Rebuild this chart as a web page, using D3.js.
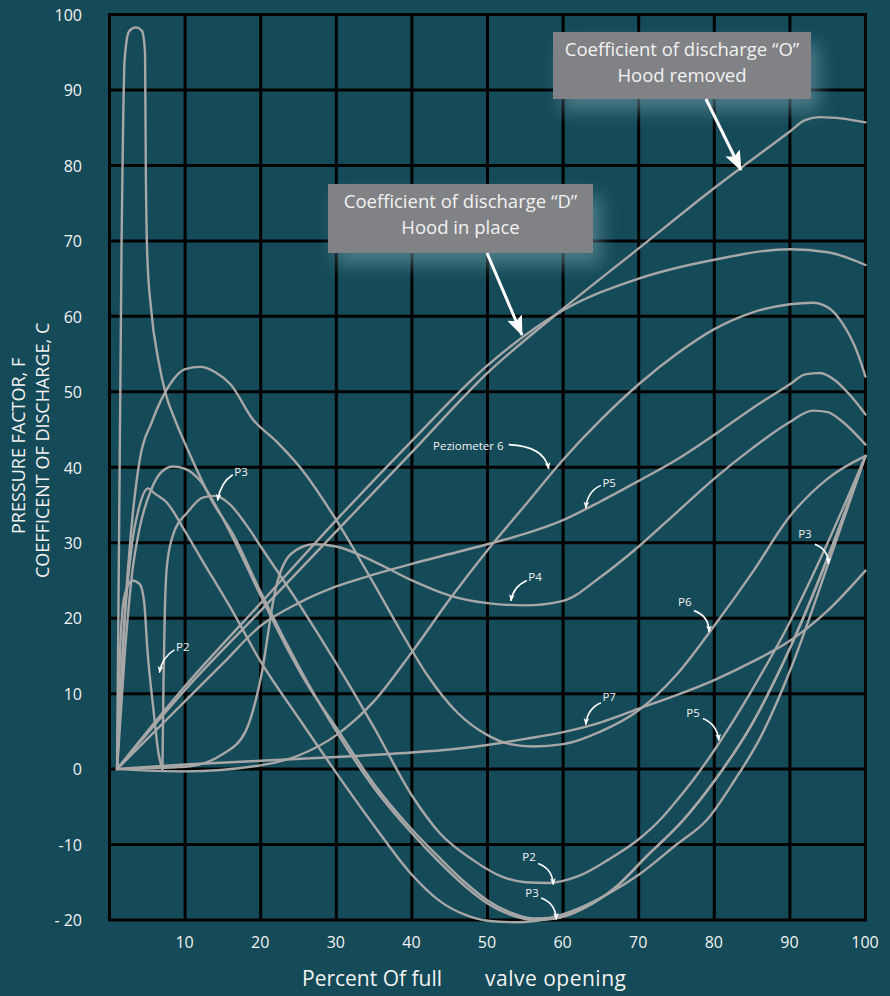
<!DOCTYPE html>
<html><head><meta charset="utf-8">
<script src="https://cdn.jsdelivr.net/npm/d3@7"></script>
<style>
html,body{margin:0;padding:0;background:#154a58;}
svg{display:block;}
text{font-family:"Open Sans","Noto Sans",sans-serif;fill:#f2f2f2;}
</style></head>
<body>
<svg id="chart" width="890" height="996"></svg>
<script>
// ---- data ----
const xTicks = [10,20,30,40,50,60,70,80,90,100];
const xTickLabels = ["10","20","30","40","50","60","70","80","90","100"];
const yTicks = [-20,-10,0,10,20,30,40,50,60,70,80,90,100];
const yTickLabels = ["- 20","-10","0","10","20","30","40","50","60","70","80","90","100"];
const xTitleParts = ["Percent Of full","valve opening"];
const yTitleLines = ["PRESSURE FACTOR, F","COEFFICENT OF DISCHARGE, C"];

const coefO = [[1,0],[10,10.5],[20,21],[30,31.5],[40,42],[50,52.5],[60,61],[70,69],[80,77],[90,84.5],[92,86],[94,86.4],[97,86.2],[100,85.7]];
const coefD = [[1,0],[10,11],[20,22],[30,33],[40,43.5],[50,53.5],[60,60.8],[70,65],[80,67.5],[90,68.9],[95,68.5],[100,66.8]];
const piez6 = [[1,0],[10,-0.3],[20,0.5],[25,1.8],[30,4.5],[35,9],[40,15.5],[45,22.5],[50,29],[55,35],[60,41],[65,46.3],[70,51],[75,55],[80,58.3],[85,60.5],[90,61.6],[93,61.8],[95,61.2],[97,59],[99,55],[100,52]];
const p5upper = [[1,0],[5,4],[10,9],[15,14],[20,19],[25,22],[30,24.2],[35,25.8],[40,27.2],[45,28.5],[50,29.8],[55,31.2],[60,33],[65,35.5],[70,38.2],[75,41],[80,44.3],[85,47.8],[90,51],[92,52.3],[94,52.5],[96,51.5],[98,49.5],[100,47]];
const p4 = [[1,0],[10,0.3],[15,2],[18,5],[20,12],[22,24],[24,28.5],[27,29.8],[30,29.5],[35,27.5],[40,25],[45,23],[50,22],[55,21.7],[60,22.3],[65,25.5],[70,29.5],[75,34],[80,38.5],[85,42.5],[90,46],[93,47.5],[95,47.3],[97,46],[100,43]];
const p7 = [[1,0],[10,0.6],[20,1.1],[30,1.6],[40,2.2],[45,2.6],[50,3.2],[55,4],[60,4.9],[65,6.2],[70,8],[75,9.8],[80,11.8],[85,14.2],[90,17],[95,21],[100,26.3]];
const spike = [[1,0],[1.6,70],[2,94],[2.6,97.8],[3.5,98.3],[4.3,97.8],[4.7,95],[4.8,80],[5,68],[5.5,61],[6.5,54],[7.5,49.5],[8.7,46.2],[10.5,42],[12,38.7],[13.3,36],[16.4,31],[19.5,24.5],[23.5,16.5],[25.2,13.3],[30,5],[35,-2.5],[40,-8.5],[43.7,-12.4],[47,-15.5],[50,-17.8],[53,-19.3],[56,-20],[59,-19.8],[63,-18.3],[67,-15.6],[71,-11.6],[75.9,-6.75],[80.1,-1.45],[85,6],[90,16],[95,28],[100,41.5]];
const hump53 = [[1,0],[2,20],[3,33],[4,41],[5.6,46],[8,51],[10,53],[12,53.3],[14,52.6],[16,51],[19,46.3],[22,43.5],[25.2,40],[30,33],[35,24.5],[38.4,18.5],[42,12.5],[46,7.5],[50,4.5],[53,3.3],[56,3],[60,3.3],[65,5],[70,7.8],[75,12.5],[80,19],[85,26],[90,33.5],[95,38.5],[100,41.5]];
const p40 = [[1,0],[2,15],[3,26],[4,32],[5.5,37],[7,39.5],[8.4,40.1],[10,39.8],[12,38.2],[14,35],[16.4,30.5],[19.5,24],[23.5,16],[26,11.5],[30,5.5],[35,-2],[40,-8],[43.7,-11.8],[47,-15],[50,-17.4],[53,-19],[56,-19.8],[59,-19.7],[63,-18.3],[67,-15.6],[71,-11.6],[75.9,-6.75],[80.1,-1.45],[85,6],[90,16],[95,28],[100,41.5]];
const p37 = [[1,0],[2,20],[3,30],[4,35],[5.1,37.2],[6,36.5],[7.6,35.3],[10,31.5],[12,28.1],[16.4,20.7],[19.9,14.4],[25.2,6.5],[30,-0.5],[35,-7.5],[40,-14],[43.7,-17.5],[47,-19.3],[50,-20.1],[54,-20.3],[58,-19.8],[62,-18.5],[66,-16.5],[70,-14],[75,-10],[79,-6.75],[82.7,-1.45],[86,4],[90,13],[95,27],[100,41.5]];
const p36 = [[7,0],[7.15,12],[7.3,20],[7.6,27],[8.5,31.3],[10.3,34],[12.4,36],[14,36.2],[16,35],[18,32.5],[20,29.5],[25,22],[30,14],[35,5.5],[40,-3.5],[43.7,-8.5],[48,-12],[52,-14.3],[55,-15],[58,-15.1],[62,-14.2],[66,-12],[70,-9.3],[72.8,-6.75],[75,-4.2],[77.2,-1.45],[80,2.5],[85,10.5],[90,19.5],[95,30],[100,41.5]];
const hump25 = [[1,0],[1.5,18],[2,23],[3,25],[4,24.5],[4.6,22],[5,16],[5.8,8],[6.5,2],[7,0]];

const curves = [coefO, coefD, piez6, p5upper, p4, p7, spike, hump53, p40, p37, p36, hump25];

// small labels with curved arrows (data units)
const smallLabels = [
  {t:"Peziometer 6", x:42.8, y:42.3, a:[52.8,43.0], c:[57.5,42.8], e:[58.1,39.8]},
  {t:"P5", x:65.2, y:37.4, a:[65.0,37.6], c:[63.2,36.8], e:[63.0,34.6]},
  {t:"P4", x:55.4, y:24.9, a:[55.2,25.0], c:[53.4,24.2], e:[53.1,22.3]},
  {t:"P3", x:16.5, y:38.9, a:[16.3,39.0], c:[14.7,38.0], e:[14.3,35.6]},
  {t:"P2", x:8.8, y:15.6, a:[8.6,15.8], c:[7.0,14.9], e:[6.6,12.8]},
  {t:"P3", x:91.1, y:30.6, a:[93.3,29.8], c:[95.1,29.1], e:[95.1,27.2]},
  {t:"P6", x:75.2, y:21.6, a:[77.3,21.0], c:[79.3,20.3], e:[79.3,18.2]},
  {t:"P7", x:65.2, y:9.0, a:[65.0,8.8], c:[63.2,8.0], e:[63.0,5.9]},
  {t:"P5", x:76.3, y:6.9, a:[78.5,6.7], c:[80.4,5.9], e:[80.6,3.8]},
  {t:"P2", x:54.6, y:-12.2, a:[56.7,-12.5], c:[58.6,-13.2], e:[58.7,-15.3]},
  {t:"P3", x:55.0, y:-16.9, a:[57.1,-17.1], c:[59.0,-17.8], e:[59.1,-19.9]}
];

const boxes = [
  {lines:["Coefficient of discharge \u201cO\u201d","Hood removed"], x0:553, y0:32, w:258, h:67, a:[706,99], e:[741,170]},
  {lines:["Coefficient of discharge \u201cD\u201d","Hood in place"], x0:328, y0:184, w:265, h:69, a:[487,253], e:[522,335]}
];

// ---- chart ----
const svg = d3.select("#chart");
const x = d3.scaleLinear().domain([0,100]).range([109.5,865.5]);
const y = d3.scaleLinear().domain([-20,100]).range([920,14.5]);

const defs = svg.append("defs");
defs.append("filter").attr("id","glow").attr("x","-30%").attr("y","-40%").attr("width","160%").attr("height","180%")
  .append("feGaussianBlur").attr("stdDeviation",9);
defs.append("marker").attr("id","ah").attr("viewBox","0 0 20 16").attr("refX",19).attr("refY",8)
  .attr("markerWidth",20).attr("markerHeight",16).attr("markerUnits","userSpaceOnUse").attr("orient","auto")
  .append("path").attr("d","M0,0 L20,8 L0,16 L4,8 Z").attr("fill","#ffffff");
defs.append("marker").attr("id","ahs").attr("viewBox","0 0 10 10").attr("refX",9).attr("refY",5)
  .attr("markerWidth",7).attr("markerHeight",7).attr("markerUnits","userSpaceOnUse").attr("orient","auto")
  .append("path").attr("d","M0,1 L10,5 L0,9 L2.5,5 Z").attr("fill","#ffffff");

// grid
const g = svg.append("g");
g.selectAll("line.v").data(xTicks.slice(0,-1)).join("line")
  .attr("x1",d=>x(d)).attr("x2",d=>x(d)).attr("y1",y(100)).attr("y2",y(-20))
  .attr("stroke","#000").attr("stroke-width",3);
g.selectAll("line.h").data(yTicks.slice(1,-1)).join("line")
  .attr("x1",x(0)).attr("x2",x(100)).attr("y1",d=>y(d)).attr("y2",d=>y(d))
  .attr("stroke","#000").attr("stroke-width",3);
g.append("rect").attr("x",x(0)).attr("y",y(100)).attr("width",x(100)-x(0)).attr("height",y(-20)-y(100))
  .attr("fill","none").attr("stroke","#000").attr("stroke-width",3);

// tick labels via axes
const yAxis = d3.axisLeft(y).tickValues(yTicks).tickFormat((d,i)=>yTickLabels[i]).tickSize(0).tickPadding(0);
const ya = svg.append("g").attr("transform","translate(82,0)").call(yAxis);
ya.select(".domain").remove();
ya.selectAll("text").attr("font-size",16).attr("fill","#f2f2f2").attr("dy","0.36em")
  .style("font-family","'Open Sans'");

const xAxis = d3.axisBottom(x).tickValues(xTicks).tickFormat((d,i)=>xTickLabels[i]).tickSize(0).tickPadding(0);
const xa = svg.append("g").attr("transform","translate(-1,937)").call(xAxis);
xa.select(".domain").remove();
xa.selectAll("text").attr("font-size",16).attr("fill","#f2f2f2").attr("dy","0.71em")
  .style("font-family","'Open Sans'");

// axis titles
svg.append("text").attr("x",302).attr("y",986).attr("font-size",21).text(xTitleParts[0]);
svg.append("text").attr("x",485).attr("y",986).attr("font-size",21).attr("letter-spacing",0.5).text(xTitleParts[1]);
svg.append("text").attr("transform","translate(25,534) rotate(-90)").attr("font-size",18).text(yTitleLines[0]);
svg.append("text").attr("transform","translate(49,578) rotate(-90)").attr("font-size",18).text(yTitleLines[1]);

// curves
const line = d3.line().x(d=>x(d[0])).y(d=>y(d[1])).curve(d3.curveMonotoneX);
svg.append("g").selectAll("path").data(curves).join("path")
  .attr("d",line).attr("fill","none").attr("stroke","#a7a7a7").attr("stroke-width",2.4)
  .attr("stroke-linejoin","round").attr("stroke-linecap","round");

// small labels with curved arrows
const lg = svg.append("g");
smallLabels.forEach(l=>{
  lg.append("text").attr("x",x(l.x)).attr("y",y(l.y)).attr("font-size",11.5).text(l.t);
  lg.append("path").attr("d",`M${x(l.a[0])},${y(l.a[1])} Q${x(l.c[0])},${y(l.c[1])} ${x(l.e[0])},${y(l.e[1])}`)
    .attr("fill","none").attr("stroke","#fff").attr("stroke-width",1.6).attr("marker-end","url(#ahs)");
});

// annotation boxes
boxes.forEach(b=>{
  svg.append("rect").attr("x",b.x0+8).attr("y",b.y0+12).attr("width",b.w).attr("height",b.h)
    .attr("fill","#74a2ad").attr("opacity",0.55).attr("filter","url(#glow)");
});
boxes.forEach(b=>{
  svg.append("rect").attr("x",b.x0).attr("y",b.y0).attr("width",b.w).attr("height",b.h).attr("fill","#818285");
  b.lines.forEach((t,i)=>{
    svg.append("text").attr("x",b.x0+b.w/2).attr("y",b.y0+24+i*26).attr("text-anchor","middle")
      .attr("font-size",18.5).text(t);
  });
  svg.append("line").attr("x1",b.a[0]).attr("y1",b.a[1]).attr("x2",b.e[0]).attr("y2",b.e[1])
    .attr("stroke","#fff").attr("stroke-width",3).attr("marker-end","url(#ah)");
});
</script>
</body></html>
